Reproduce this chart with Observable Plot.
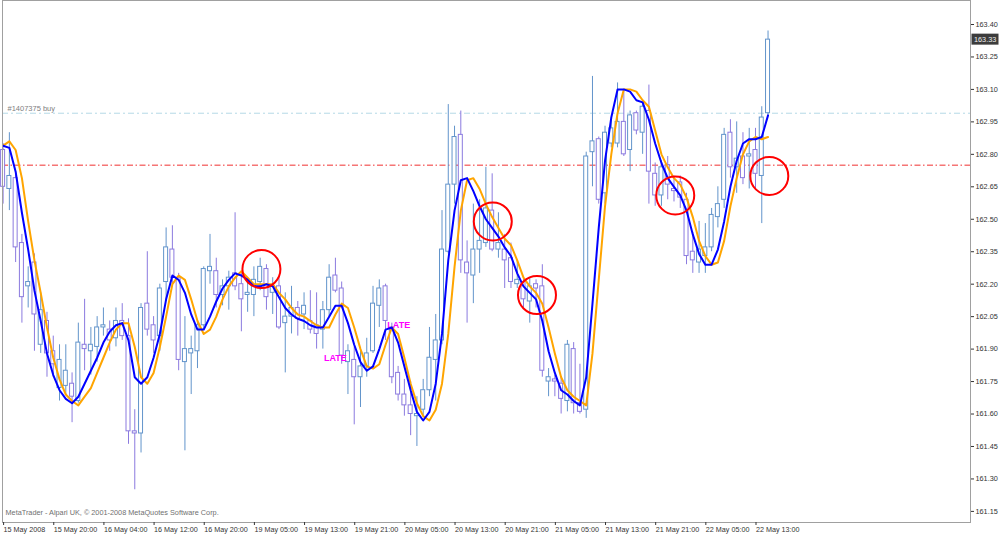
<!DOCTYPE html>
<html><head><meta charset="utf-8">
<script src="https://cdn.jsdelivr.net/npm/d3@7"></script>
<script src="https://cdn.jsdelivr.net/npm/@observablehq/plot@0.6"></script>
<style>html,body{margin:0;padding:0;background:#fff;}#chart svg{display:block}</style>
</head><body><div id="chart"></div>
<script>
// ---- data (GBPJPY H1, 15–22 May 2008), bar index 0 = 15 May 12:00 ----
const opens = [162.82,162.64,162.69,162.39,162.19,162.30,161.92,162.03,161.89,161.72,161.73,161.74,161.66,161.92,161.89,161.91,162.00,161.99,161.95,162.03,161.96,161.52,161.51,162.11,162.01,161.96,162.21,162.36,162.23,161.84,161.88,161.89,162.01,162.26,162.26,162.15,162.19,162.25,162.20,162.15,162.15,162.21,162.27,162.16,162.19,162.02,162.05,162.09,162.06,162.03,162.01,161.99,162.08,162.24,162.18,161.84,161.85,161.77,161.82,161.89,162.10,162.19,162.00,161.79,161.69,161.64,161.59,161.62,161.71,161.85,161.94,162.35,162.66,162.89,162.30,162.24,162.36,162.39,162.54,162.36,162.36,162.32,162.20,162.21,162.12,162.20,162.19,161.75,161.76,161.74,161.66,161.90,161.65,161.62,162.81,162.87,162.62,162.85,162.85,162.95,162.82,162.99,162.90,163.00,162.71,162.61,162.75,162.64,162.67,162.59,162.35,162.30,162.33,162.37,162.51,162.59,162.90,162.74,162.79,162.79,162.82,162.70,162.99];
const highs = [162.85,162.90,162.72,162.43,162.28,162.34,162.16,162.07,161.96,161.92,161.92,161.79,162.02,162.13,162.00,162.05,162.09,162.03,162.09,162.11,162.04,161.62,162.11,162.35,162.05,162.20,162.46,162.47,162.25,162.05,161.96,162.03,162.28,162.43,162.32,162.22,162.26,162.53,162.25,162.23,162.28,162.32,162.29,162.23,162.23,162.16,162.19,162.12,162.16,162.17,162.16,162.12,162.29,162.32,162.21,161.92,161.91,161.89,161.95,162.19,162.22,162.20,162.02,161.82,161.76,161.75,161.68,161.76,162.00,162.06,162.54,163.03,162.93,163.00,162.40,162.57,162.59,162.74,162.71,162.53,162.43,162.39,162.31,162.23,162.23,162.22,162.29,161.81,161.78,161.77,161.94,161.93,161.83,162.81,163.16,162.88,162.93,162.97,163.13,163.10,163.00,163.00,163.04,163.12,162.76,162.77,162.79,162.70,162.70,162.62,162.44,162.49,162.48,162.55,162.65,162.92,162.96,162.95,162.90,162.92,162.92,163.02,163.37];
const lows = [162.57,162.54,162.30,162.02,162.09,161.89,161.88,161.77,161.77,161.66,161.69,161.56,161.65,161.80,161.78,161.84,161.96,161.89,161.91,161.94,161.46,161.25,161.42,161.96,161.88,161.89,162.12,162.19,161.80,161.43,161.69,161.81,161.99,162.20,162.09,162.10,162.08,162.17,161.98,162.07,162.05,162.17,162.08,162.06,161.99,161.79,161.97,161.96,161.99,161.97,161.90,161.90,162.05,162.16,161.83,161.69,161.55,161.63,161.77,161.88,162.00,161.94,161.74,161.66,161.59,161.50,161.45,161.59,161.68,161.66,161.92,162.34,162.57,162.25,162.02,162.11,162.25,162.37,162.35,162.32,162.18,162.18,162.18,162.09,162.02,162.09,161.77,161.68,161.68,161.60,161.61,161.60,161.60,161.58,162.65,162.57,162.57,162.83,162.83,162.79,162.72,162.89,162.80,162.57,162.56,162.56,162.59,162.58,162.55,162.29,162.25,162.25,162.25,162.35,162.46,162.55,162.69,162.62,162.66,162.64,162.64,162.48,162.98];
const closes = [162.65,162.70,162.37,162.14,162.21,162.06,162.08,161.88,161.83,161.85,161.80,161.68,161.93,161.90,161.92,162.00,162.01,161.94,162.03,161.96,161.52,161.51,162.09,161.99,161.94,162.18,162.37,162.23,161.85,161.90,161.90,162.01,162.27,162.28,162.15,162.19,162.23,162.19,162.13,162.16,162.22,162.28,162.14,162.19,162.00,162.05,162.09,162.04,162.10,161.99,161.97,162.08,162.23,162.17,161.87,161.89,161.77,161.82,161.88,162.11,162.18,162.03,161.77,161.69,161.64,161.60,161.60,161.71,161.86,161.94,162.36,162.66,162.88,162.31,162.25,162.36,162.40,162.55,162.36,162.39,162.31,162.21,162.22,162.13,162.19,162.18,161.80,161.77,161.75,161.67,161.92,161.65,161.61,162.79,162.86,162.59,162.90,162.92,162.95,162.80,162.98,162.91,163.02,162.72,162.61,162.74,162.66,162.63,162.60,162.33,162.31,162.36,162.37,162.52,162.57,162.89,162.74,162.78,162.69,162.80,162.71,162.97,163.33];
const fastMA = [162.84,162.83,162.72,162.53,162.36,162.17,162.03,161.88,161.78,161.71,161.67,161.65,161.68,161.74,161.80,161.86,161.93,161.98,162.01,162.02,161.94,161.77,161.74,161.77,161.86,161.97,162.13,162.24,162.22,162.16,162.06,161.99,161.99,162.05,162.12,162.18,162.22,162.25,162.24,162.22,162.19,162.19,162.20,162.19,162.14,162.09,162.06,162.04,162.03,162.01,162.00,162.00,162.05,162.10,162.10,162.02,161.92,161.84,161.80,161.82,161.90,161.99,162.00,161.93,161.82,161.71,161.61,161.57,161.61,161.74,161.97,162.31,162.54,162.68,162.69,162.63,162.56,162.50,162.46,162.42,162.37,162.33,162.25,162.19,162.16,162.13,162.03,161.89,161.79,161.71,161.69,161.66,161.64,161.77,162.11,162.46,162.77,162.97,163.10,163.10,163.09,163.05,163.04,162.96,162.85,162.76,162.69,162.65,162.61,162.54,162.43,162.34,162.29,162.29,162.36,162.49,162.65,162.77,162.85,162.87,162.87,162.88,162.98];
const slowMA = [162.84,162.86,162.82,162.69,162.49,162.31,162.16,162.00,161.86,161.76,161.69,161.66,161.64,161.68,161.72,161.79,161.86,161.93,161.99,162.02,162.02,161.91,161.77,161.74,161.79,161.91,162.05,162.20,162.24,162.22,162.13,162.03,161.97,161.99,162.05,162.13,162.19,162.23,162.26,162.23,162.20,162.20,162.20,162.20,162.16,162.13,162.09,162.06,162.05,162.03,162.01,162.00,162.00,162.06,162.11,162.09,162.00,161.90,161.82,161.81,161.83,161.92,162.00,161.97,161.86,161.74,161.65,161.59,161.57,161.62,161.74,161.97,162.28,162.54,162.68,162.69,162.64,162.57,162.51,162.46,162.41,162.38,162.31,162.23,162.19,162.16,162.11,162.00,161.88,161.77,161.71,161.68,161.66,161.64,161.88,162.22,162.56,162.80,162.99,163.10,163.10,163.09,163.05,163.02,162.91,162.80,162.74,162.69,162.66,162.60,162.51,162.40,162.33,162.29,162.30,162.40,162.56,162.69,162.80,162.86,162.88,162.87,162.88];
const tickBars = [0,8,16,24,32,40,48,56,64,72,80,88,96,104,112,120];
const tickLabels = ["15 May 2008","15 May 20:00","16 May 04:00","16 May 12:00","16 May 20:00","19 May 05:00","19 May 13:00","19 May 21:00","20 May 05:00","20 May 13:00","20 May 21:00","21 May 05:00","21 May 13:00","21 May 21:00","22 May 05:00","22 May 13:00"];
const priceTicks = [161.15,161.30,161.45,161.60,161.75,161.90,162.05,162.20,162.35,162.50,162.65,162.80,162.95,163.10,163.25,163.40];
const buyLevel = 162.99;
const stopLevel = 162.75;
const orderLabel = ["#1407375 buy"];
const copyright = ["MetaTrader - Alpari UK, © 2001-2008 MetaQuotes Software Corp."];
const lateBars = [53.0, 63.1];
const latePrices = [161.86, 162.01];
const lateTexts = ["LATE", "LATE"];
const circleBars = [41.2, 78.1, 85.15, 107.2, 122.2];
const circlePrices = [162.27, 162.49, 162.15, 162.61, 162.70];

// ---- build tables ----
const bars = opens.map((o, i) => ({i, open: o, high: highs[i], low: lows[i], close: closes[i]}));
const fast = fastMA.map((v, i) => ({i, v}));
const slow = slowMA.map((v, i) => ({i, v}));
const lates = lateTexts.map((t, k) => ({i: lateBars[k], p: latePrices[k], t}));
const circles = circleBars.map((b, k) => ({i: b, p: circlePrices[k]}));

// ---- layout ----
const W = 1000, H = 536, mL = 2, mR = 30, mT = 0, mB = 14;
const bar0px = 2.6, barStep = 6.27;          // pixel of first bar, pixels per bar
const refPrice = 163.40, refPx = 24, pxPerUnit = 216.4;
const xDomain = [(mL - bar0px) / barStep, (W - mR - bar0px) / barStep];
const yDomain = [refPrice - (H - mB - refPx) / pxPerUnit, refPrice + (refPx - mT) / pxPerUnit];
const bw = 2 / barStep;
const UP = "#6294cb", DOWN = "#8b7adf";
const col = d => d.close >= d.open ? UP : DOWN;
const FONT = "'Liberation Sans', Arial, sans-serif";

const chart = Plot.plot({
  width: W, height: H,
  marginLeft: mL, marginRight: mR, marginTop: mT, marginBottom: mB,
  style: {fontFamily: FONT, fontSize: "7.3px", background: "#fff", color: "#333", overflow: "visible"},
  x: {domain: xDomain, axis: null},
  y: {domain: yDomain, axis: null},
  marks: [
    Plot.ruleY([buyLevel], {stroke: "#b4d9e6", strokeWidth: 1, strokeDasharray: "6,3,2,3"}),
    Plot.ruleY([stopLevel], {stroke: "#f03030", strokeWidth: 1, strokeDasharray: "6,2.5,1.5,2.5"}),
    Plot.ruleX(bars, {x: "i", y1: "low", y2: "high", stroke: col, strokeWidth: 1}),
    Plot.rect(bars, {x1: d => d.i - bw, x2: d => d.i + bw, y1: "open", y2: "close", fill: "#fff", stroke: col, strokeWidth: 1}),
    Plot.text(lates, {x: "i", y: "p", text: "t", fill: "#ff00ff", fontWeight: "bold", fontSize: 9, fontFamily: FONT}),
    Plot.line(slow, {x: "i", y: "v", stroke: "#ffa500", strokeWidth: 2}),
    Plot.line(fast, {x: "i", y: "v", stroke: "#0000ff", strokeWidth: 2}),
    Plot.dot(circles, {x: "i", y: "p", r: 19, stroke: "#ff0000", strokeWidth: 2, fill: "none"}),
    Plot.text(orderLabel, {text: d => d, y: () => buyLevel, frameAnchor: "left", textAnchor: "start", dx: 5, dy: -5, fill: "#808080", fontSize: 7.5}),
    Plot.text(copyright, {text: d => d, frameAnchor: "bottom-left", textAnchor: "start", dx: 3, dy: -8, fill: "#707070", fontSize: 7.3}),
    Plot.frame({stroke: "#a0a0a0"}),
    Plot.axisX(tickBars, {anchor: "bottom", tickSize: 3, tickPadding: 1, textAnchor: "start", dx: 0.5,
      tickFormat: d => tickLabels[tickBars.indexOf(d)], fontSize: 7.2, color: "#333", label: null}),
    Plot.axisY(priceTicks, {anchor: "right", tickSize: 3, tickPadding: 2, tickFormat: d => d.toFixed(2),
      fontSize: 7.3, color: "#333", label: null})
  ]
});

// current bid price box on the price axis
const yScale = chart.scale("y");
const last = closes[closes.length - 1];
const yy = yScale.apply(last);
const svg = d3.select(chart);
svg.append("rect").attr("x", W - mR + 1.5).attr("y", yy - 5.5).attr("width", 27).attr("height", 11).attr("fill", "#3c3c3c");
svg.append("text").attr("x", W - mR + 4).attr("y", yy).attr("dy", "0.35em").attr("fill", "#f0f0f0")
  .attr("text-anchor", "start").attr("font-size", "7.3px").attr("font-family", FONT).text(last.toFixed(2));

document.getElementById("chart").appendChild(chart);
</script>
</body></html>
